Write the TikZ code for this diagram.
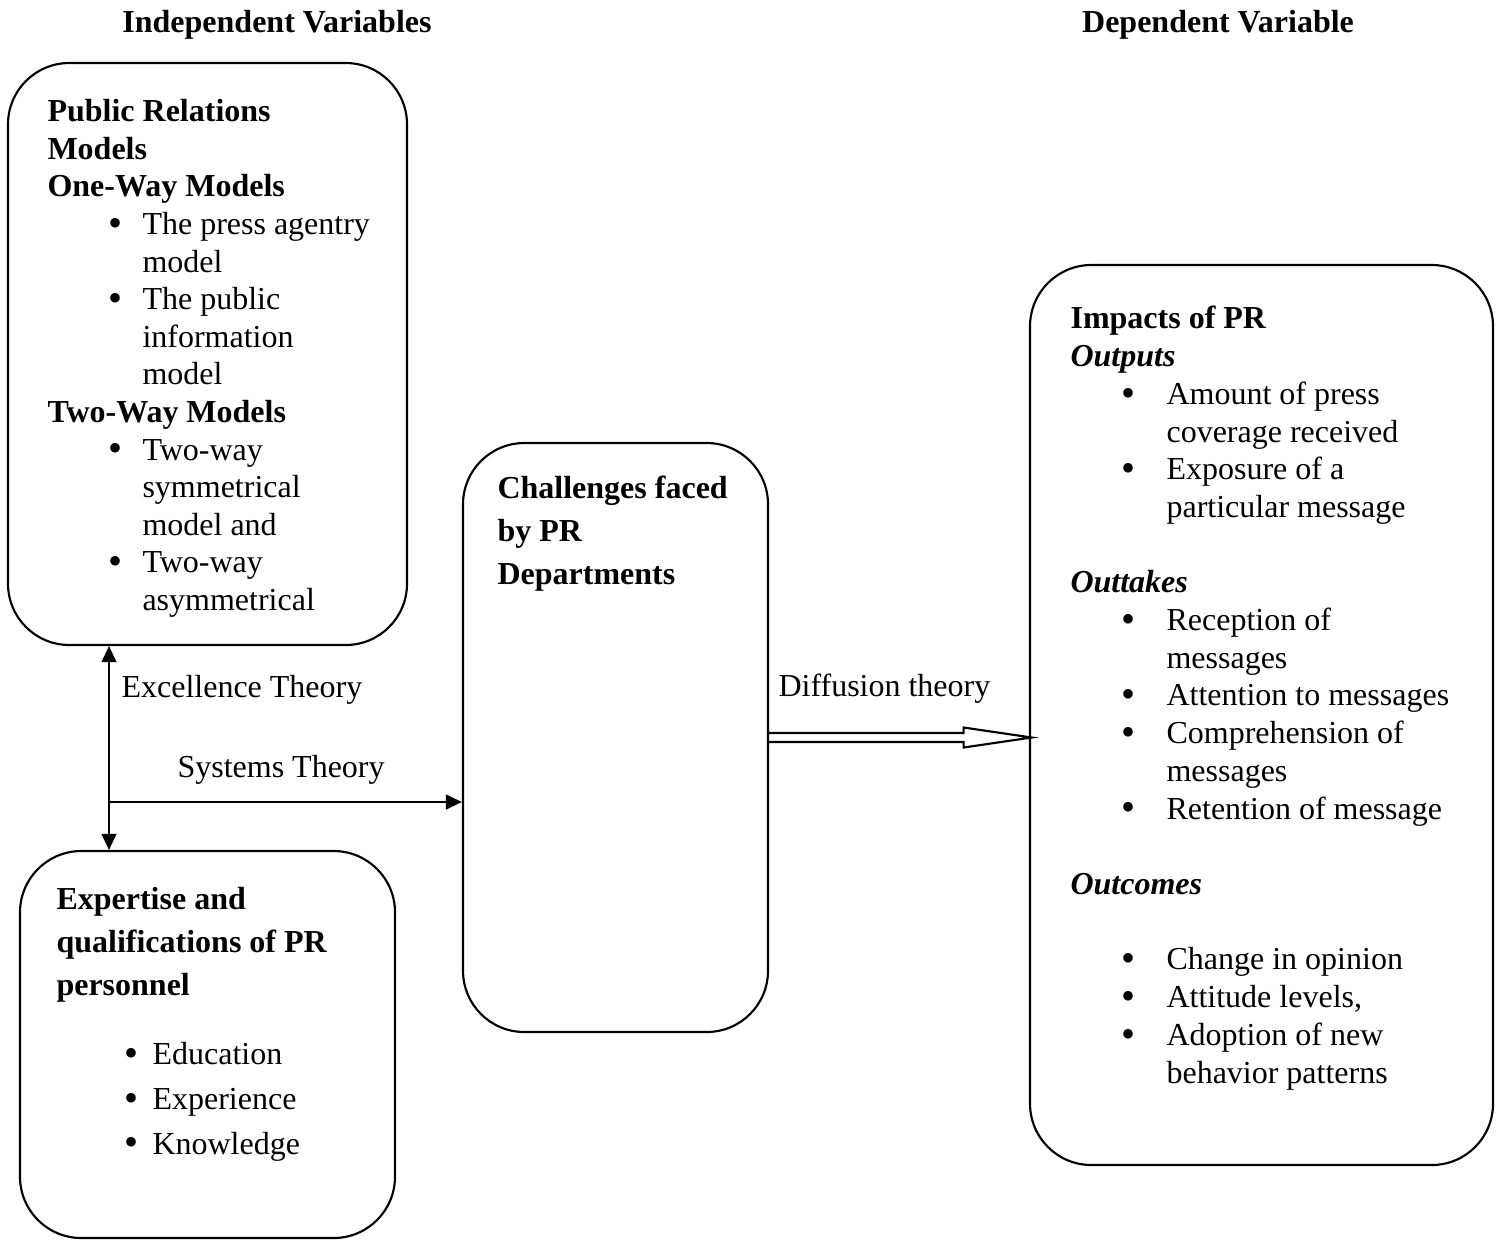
\documentclass[tikz,border=0pt]{standalone}
\usepackage{fontspec}
\setmainfont{Liberation Serif}
\usetikzlibrary{arrows.meta}
\newlength\pxu \setlength\pxu{0.375pt}
\newcommand\bdot{{\fontsize{15}{15}\selectfont\raisebox{-0.7pt}{•}}}
\newcommand\bl[3]{\hspace*{#1\pxu}\makebox[\dimexpr #2\pxu-#1\pxu\relax][l]{\bdot}#3}
\newcommand\ct[2]{\hspace*{#1\pxu}#2}
\begin{document}
\begin{tikzpicture}[x=0.375pt,y=-0.375pt,
  box/.style={draw, line width=0.8pt, rounded corners=23pt, inner sep=0pt},
  txt/.style={anchor=base west, inner sep=0pt, align=left, font=\fontsize{12}{14.1}\selectfont},
  txtb/.style={txt, font=\fontsize{12}{16.1}\selectfont},
  lbl/.style={anchor=west, inner sep=0pt, font=\fontsize{12}{14}\selectfont},
  ttl/.style={inner sep=0pt, font=\fontsize{12}{14}\selectfont\bfseries},
  arr/.style={line width=0.8pt, -{Triangle[length=6pt,width=5.5pt]}},
  darr/.style={line width=0.8pt, {Triangle[length=6pt,width=5.5pt]}-{Triangle[length=6pt,width=5.5pt]}}]
\useasboundingbox (0,0) rectangle (1499,1239);

% titles
\node[ttl] (t1) at (277,25) {Independent Variables};
\node[ttl] (t2) at (1218,25) {Dependent Variable};

% boxes
\node[box, minimum width=149.625pt, minimum height=218.25pt] (box1) at (207.5,354) {};
\node[box, minimum width=140.625pt, minimum height=145.125pt] (box2) at (207.5,1044.5) {};
\node[box, minimum width=114.375pt, minimum height=220.875pt] (cbox) at (615.5,737.5) {};
\node[box, minimum width=173.625pt, minimum height=337.5pt] (rbox) at (1261.5,715) {};

% box 1 text (anchored at the baseline of its last line)
\node[txt] (b1t) at (47,610.5) {\textbf{Public Relations}\\
\textbf{Models}\\
\textbf{One-Way Models}\\
\bl{61}{95}{The press agentry}\\
\ct{95}{model}\\
\bl{61}{95}{The public}\\
\ct{95}{information}\\
\ct{95}{model}\\
\textbf{Two-Way Models}\\
\bl{61}{95}{Two-way}\\
\ct{95}{symmetrical}\\
\ct{95}{model and}\\
\bl{61}{95}{Two-way}\\
\ct{95}{asymmetrical}};

% box 2 text
\node[txtb] (b2t) at (56,1154) {\textbf{Expertise and}\\
\textbf{qualifications of PR}\\
\textbf{personnel}\\[10pt]
\bl{68}{96}{Education}\\[0.6pt]
\bl{68}{96}{Experience}\\[0.6pt]
\bl{68}{96}{Knowledge}};

% center box text
\node[txtb] (ct) at (497,584) {\textbf{Challenges faced}\\
\textbf{by PR}\\
\textbf{Departments}};

% right box text
\node[txt, font=\fontsize{12}{14.14}\selectfont] (rt) at (1070,1083) {\textbf{Impacts of PR}\\
\textbf{\textit{Outputs}}\\
\bl{51}{96}{Amount of press}\\
\ct{96}{coverage received}\\
\bl{51}{96}{Exposure of a}\\
\ct{96}{particular message}\\[14.14pt]
\textbf{\textit{Outtakes}}\\
\bl{51}{96}{Reception of}\\
\ct{96}{messages}\\
\bl{51}{96}{Attention to messages}\\
\bl{51}{96}{Comprehension of}\\
\ct{96}{messages}\\
\bl{51}{96}{Retention of message}\\[14.14pt]
\textbf{\textit{Outcomes}}\\[14.14pt]
\bl{51}{96}{Change in opinion}\\
\bl{51}{96}{Attitude levels,}\\
\bl{51}{96}{Adoption of new}\\
\ct{96}{behavior patterns}};

% connectors
\coordinate (v) at (109,802);
\draw[darr] (v |- box1.south) -- (v |- box2.north);
\draw[arr] (v) -- (v -| cbox.west);

\node[lbl] (l1) at (121,690) {Excellence Theory};
\node[lbl] (l2) at (177,770) {Systems Theory};
\node[lbl] (l3) at (778,689) {Diffusion theory};

% hollow arrow
\coordinate (tip) at ([xshift=1pt]rbox.west |- cbox.east);
\draw[line width=0.8pt, line join=miter]
  ([yshift=1.7pt]cbox.east) -- ([xshift=-25.5pt,yshift=1.7pt]tip)
  -- ([xshift=-25.5pt,yshift=3.75pt]tip) -- (tip)
  -- ([xshift=-25.5pt,yshift=-3.75pt]tip) -- ([xshift=-25.5pt,yshift=-1.7pt]tip)
  -- ([yshift=-1.7pt]cbox.east);
\end{tikzpicture}
\end{document}
